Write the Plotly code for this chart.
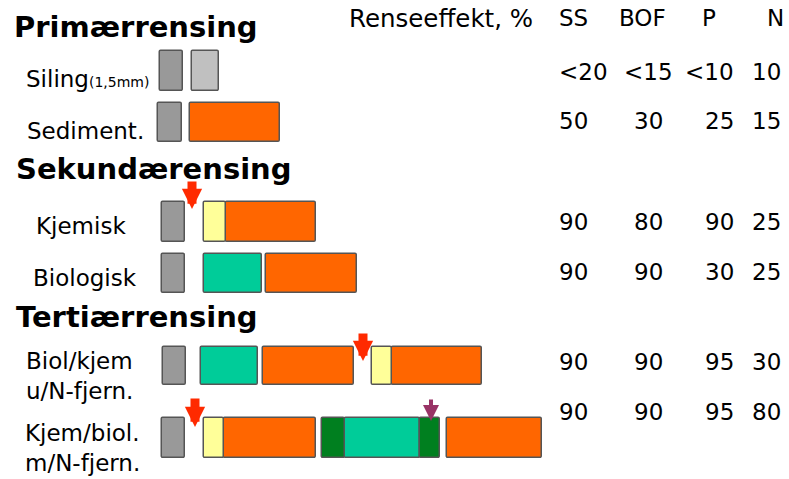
import plotly.graph_objects as go

# ------------------------------------------------------------
# Dados: processos e renseeffekt (%)
# ------------------------------------------------------------
SECTIONS = ["Primærrensing", "Sekundærensing", "Tertiærrensing"]
PROCESSES = [
    "Siling<span style='font-size:14px'>(1,5mm)</span>",
    "Sediment.",
    "Kjemisk",
    "Biologisk",
    "Biol/kjem<br>u/N-fjern.",
    "Kjem/biol.<br>m/N-fjern.",
]
HEADER = ["SS", "BOF", "P", "N"]
SS = ["<20", "50", "90", "90", "90", "90"]
BOF = ["<15", "30", "80", "90", "90", "90"]
P = ["<10", "25", "90", "30", "95", "95"]
N = ["10", "15", "25", "25", "30", "80"]

# Trinn i hver prosesslinje: (rad, type, start, slutt)
STAGES = [
    (0, "rist", 160, 183), (0, "sil", 192, 219),
    (1, "rist", 158, 182), (1, "sed", 190, 280),
    (2, "rist", 162, 185), (2, "kjem", 204, 226), (2, "sed", 226, 316),
    (3, "rist", 162, 185), (3, "bio", 204, 262), (3, "sed", 266, 357),
    (4, "rist", 163, 186), (4, "bio", 201, 258), (4, "sed", 263, 354),
    (4, "kjem", 372, 392), (4, "sed", 392, 482),
    (5, "rist", 162, 185), (5, "kjem", 204, 224), (5, "sed", 224, 316),
    (5, "nitr", 322, 345), (5, "bio", 345, 420), (5, "nitr", 420, 440),
    (5, "sed", 447, 542),
]
# Kjemikalie-/karbondosering: (rad, x, topp, spiss, farge)
DOSING = [
    (2, 192, 180, 209, "#ff2a00"),
    (4, 363, 332, 361, "#ff2a00"),
    (5, 195, 397, 427, "#ff2a00"),
    (5, 431, 398, 421, "#993366"),
]

COLORS = {
    "rist": "#999999", "sil": "#c0c0c0", "sed": "#ff6600",
    "kjem": "#ffff99", "bio": "#00cc99", "nitr": "#007f1f",
}

# layout em pixels (1 unidade = 1 px)
ROW_Y = [71, 122, 222, 273, 366, 438]
ROW_H = [40, 39, 40, 39, 38, 40]
SECTION_Y = [27, 169, 317]
SECTION_X = [12, 14, 14]
LABEL_X = [24, 25, 34, 31, 24, 23]
LABEL_Y = [79, 131, 226, 278, 376, 448]
VALUE_Y = [72, 121, 222, 272, 362, 412]
FONT = "DejaVu Sans, Verdana, sans-serif"

fig = go.Figure()
for kind, col in COLORS.items():
    st = [s for s in STAGES if s[1] == kind]
    fig.add_trace(go.Bar(
        orientation="h",
        y=[ROW_Y[s[0]] for s in st],
        base=[s[2] for s in st],
        x=[s[3] - s[2] for s in st],
        width=[ROW_H[s[0]] for s in st],
        marker=dict(color=col, line=dict(color="#555555", width=1.5),
                    cornerradius=2),
        showlegend=False, hoverinfo="skip",
    ))

ann = []
for name, x, y in zip(SECTIONS, SECTION_X, SECTION_Y):
    ann.append(dict(x=x, y=y, text=f"<b>{name}</b>", xanchor="left",
                    font=dict(size=29, color="black")))
for name, x, y in zip(PROCESSES, LABEL_X, LABEL_Y):
    ann.append(dict(x=x, y=y, text=name, xanchor="left", align="left",
                    font=dict(size=23, color="black")))

ann.append(dict(x=535, y=18, text="Renseeffekt, %", xanchor="right",
                font=dict(size=24.5, color="black")))
col_pos = [(557, "left"), (648, "center"), (736, "right"), (783, "right")]
hdr_pos = [(557, "left"), (642, "center"), (709, "center"), (786, "right")]
for h, (x, a) in zip(HEADER, hdr_pos):
    ann.append(dict(x=x, y=18, text=h, xanchor=a,
                    font=dict(size=23, color="black")))
for vals, (x, a) in zip([SS, BOF, P, N], col_pos):
    for v, y in zip(vals, VALUE_Y):
        ann.append(dict(x=x, y=y, text=v.replace("<", "&lt;"), xanchor=a,
                        font=dict(size=23, color="black")))

for row, x, y0, y1, c in DOSING:
    w = 9 if c == "#ff2a00" else 4
    ann.append(dict(x=x, y=y1, ax=x, ay=y0, axref="x", ayref="y",
                    showarrow=True, arrowhead=2, arrowsize=0.45 if w == 9 else 0.8,
                    arrowwidth=w, arrowcolor=c, text=""))

for a in ann:
    a.setdefault("showarrow", False)
    a.setdefault("yanchor", "middle")
    a.setdefault("font", {})
    a["xref"] = "x"
    a["yref"] = "y"
    a["font"]["family"] = FONT

fig.update_layout(
    width=789, height=479,
    margin=dict(l=0, r=0, t=0, b=0),
    paper_bgcolor="white", plot_bgcolor="white",
    barmode="overlay", bargap=0,
    xaxis=dict(range=[0, 789], visible=False, fixedrange=True),
    yaxis=dict(range=[479, 0], visible=False, fixedrange=True),
    annotations=ann,
)
fig.write_html("out.html", config={"displayModeBar": False},
               post_script="document.body.style.margin='0';")
